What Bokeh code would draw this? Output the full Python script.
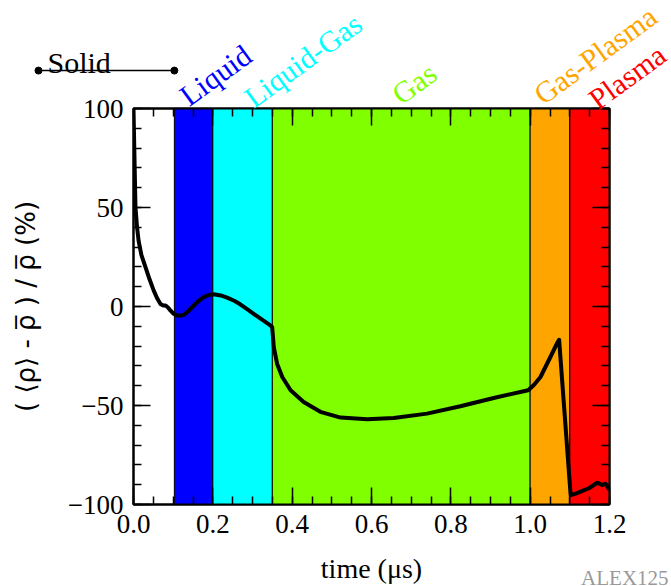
from bokeh.plotting import figure
from bokeh.models import (LinearAxis, FixedTicker, Range1d, ColumnDataSource, GridBox, Column)
from bokeh.core.properties import value
from bokeh.embed import file_html
from bokeh.resources import INLINE

# ---- data ----
time_us = [0.0, 0.002, 0.005, 0.009, 0.013, 0.02, 0.03, 0.04, 0.051, 0.06, 0.068,
           0.075, 0.081, 0.087, 0.093, 0.1, 0.11, 0.12, 0.127, 0.14, 0.152, 0.165,
           0.177, 0.19, 0.202, 0.22, 0.236, 0.255, 0.27, 0.29, 0.303, 0.325, 0.345,
           0.3496, 0.3537, 0.362, 0.375, 0.396, 0.429, 0.471, 0.522, 0.589, 0.656,
           0.74, 0.824, 0.908, 0.995, 1.01, 1.026, 1.051, 1.068, 1.073, 1.102,
           1.115, 1.127, 1.148, 1.169, 1.175, 1.181, 1.19, 1.2]
density_dev = [100, 80, 50, 40, 33, 26, 20, 14, 8, 4, 1.3,
               0.5, 0.5, -0.5, -2, -3.5, -4.5, -4.6, -4.2, -2, 0.5, 3,
               4.7, 5.8, 6.2, 5.6, 4.5, 2.8, 1.0, -1.8, -3.7, -6.8, -9.5,
               -10.4, -20.5, -28.9, -35.6, -42.3, -48.2, -53.2, -56.1, -56.9, -56.3,
               -54.1, -50.4, -46.2, -42.3, -39.5, -35.6, -25.5, -18.5, -16.8, -95.2,
               -94.5, -93.5, -91.8, -89, -89.5, -90.2, -89.5, -92.7]

phase_names = ["Liquid", "Liquid-Gas", "Gas", "Gas-Plasma", "Plasma"]
phase_start = [0.103, 0.2, 0.35, 1.0, 1.1]
phase_end = [0.2, 0.35, 1.0, 1.1, 1.2]
phase_colors = ["#0000ff", "#00ffff", "#7fff00", "#ffa500", "#ff0000"]
phase_label_x = [0.125, 0.288, 0.660, 1.018, 1.156]
phase_label_y = [104.9, 104.0, 105.7, 105.7, 103.2]

solid_start = -0.2395
solid_end = 0.103
solid_y = 119.1
solid_text_x = -0.2168
solid_text_y = 123.2

watermark_x = 1.349
watermark_y = -136.3

x_ticks = [0.0, 0.2, 0.4, 0.6, 0.8, 1.0, 1.2]
x_tick_labels = ["0.0", "0.2", "0.4", "0.6", "0.8", "1.0", "1.2"]
y_ticks = [-100, -50, 0, 50, 100]
y_tick_labels = ["\u2212100", "\u221250", "0", "50", "100"]

SERIF = "Liberation Serif"
X0, X1, Y0, Y1 = 0.0, 1.2, -100.0, 100.0
W, H = 671, 586
BL, BR, BT, BB = 133, 62, 108, 81
FW, FH = W - BL - BR, H - BT - BB

p = figure(width=W, height=H, output_backend="svg", toolbar_location=None,
           x_range=Range1d(X0, X1), y_range=Range1d(Y0, Y1),
           min_border_left=BL, min_border_right=BR, min_border_top=BT, min_border_bottom=BB,
           background_fill_color="white", border_fill_color="white")
p.grid.visible = False
p.outline_line_color = "black"
p.outline_line_width = 2

# phase bands
src = ColumnDataSource(dict(left=phase_start, right=phase_end, color=phase_colors))
p.quad(left="left", right="right", bottom=Y0, top=Y1, fill_color="color",
       line_color="black", line_width=1, source=src)

# curve
p.line(time_us, density_dev, line_color="black", line_width=4, line_join="round")

x_minor = [round(0.05 * i, 3) for i in range(25)]
y_minor = list(range(-100, 101, 10))


def style_axis(ax, ticks, minor, labels=None, show_labels=True):
    ax.ticker = FixedTicker(ticks=ticks, minor_ticks=minor)
    ax.axis_line_width = 2
    ax.axis_line_color = "black"
    ax.major_tick_in = 17
    ax.major_tick_out = 0
    ax.minor_tick_in = 8
    ax.minor_tick_out = 0
    ax.major_tick_line_width = 1.5
    ax.minor_tick_line_width = 1.5
    if show_labels:
        ax.major_label_text_font = SERIF
        ax.major_label_text_font_size = "27px"
        ax.major_label_text_color = "black"
        ax.major_label_overrides = {t: l for t, l in zip(ticks, labels)}
    else:
        ax.major_label_overrides = {t: "" for t in ticks}
        ax.major_label_standoff = 0


xa = p.xaxis[0]
style_axis(xa, x_ticks, x_minor, x_tick_labels)
xa.major_label_standoff = 10
xa.axis_label = "time (\u03bcs)"
xa.axis_label_text_font = SERIF
xa.axis_label_text_font_size = "28px"
xa.axis_label_text_font_style = "normal"
xa.axis_label_text_color = "black"
xa.axis_label_standoff = 17

ya = p.yaxis[0]
style_axis(ya, y_ticks, y_minor, y_tick_labels)
ya.major_label_standoff = 10
ya.axis_label = "( \u27e8\u03c1\u27e9 - \u03c1\u0305 ) / \u03c1\u0305 (%)"
ya.axis_label_text_font = "DejaVu Sans"
ya.axis_label_text_font_size = "26px"
ya.axis_label_text_font_style = "normal"
ya.axis_label_text_color = "black"
ya.axis_label_standoff = 24

top = LinearAxis()
style_axis(top, x_ticks, x_minor, show_labels=False)
p.add_layout(top, "above")
right = LinearAxis()
style_axis(right, y_ticks, y_minor, show_labels=False)
p.add_layout(right, "right")

# ---- transparent overlay figure sharing the same data mapping, covering the whole canvas ----
ox0 = X0 - BL / FW * (X1 - X0)
ox1 = X1 + BR / FW * (X1 - X0)
oy0 = Y0 - BB / FH * (Y1 - Y0)
oy1 = Y1 + BT / FH * (Y1 - Y0)
ov = figure(width=W, height=H, output_backend="svg", toolbar_location=None,
            x_range=Range1d(ox0, ox1), y_range=Range1d(oy0, oy1),
            x_axis_type=None, y_axis_type=None, min_border=0,
            background_fill_alpha=0, border_fill_alpha=0, outline_line_color=None)

ov.text(x=phase_label_x, y=phase_label_y, text=phase_names, angle=0.63,
        text_color=phase_colors, text_font=value(SERIF), text_font_size=value("30px"),
        text_align="left", text_baseline="alphabetic")

ov.segment(x0=[solid_start], y0=[solid_y], x1=[solid_end], y1=[solid_y],
           line_color="black", line_width=1.5)
ov.scatter([solid_start, solid_end], [solid_y, solid_y], size=7, color="black")
ov.text(x=[solid_text_x], y=[solid_text_y], text=["Solid"], text_color="black",
        text_font=value(SERIF), text_font_size=value("30px"),
        text_align="left", text_baseline="alphabetic")

ov.text(x=[watermark_x], y=[watermark_y], text=["ALEX125"], text_color="#999999",
        text_font=value(SERIF), text_font_size=value("21px"),
        text_align="right", text_baseline="alphabetic")

layout = GridBox(children=[(p, 0, 0), (Column(children=[ov]), 0, 0)])

open("out.html", "w").write(file_html(layout, INLINE))
